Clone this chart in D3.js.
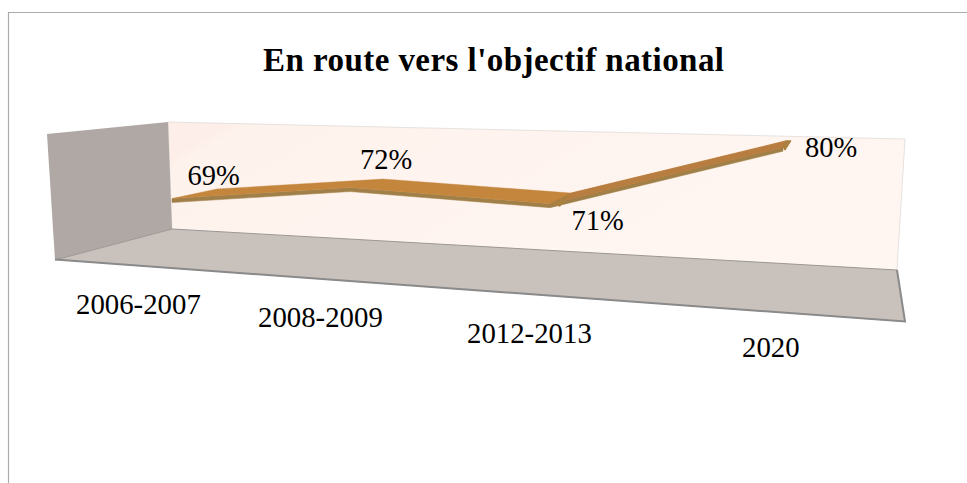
<!DOCTYPE html>
<html><head><meta charset="utf-8">
<script src="https://cdn.jsdelivr.net/npm/d3@7/dist/d3.min.js"></script>
<style>html,body{margin:0;padding:0;background:#fff}svg{display:block}text{font-family:"Liberation Serif",serif;fill:#000}</style>
</head><body><script>
const title = "En route vers l'objectif national";
const categories = ["2006-2007","2008-2009","2012-2013","2020"];
const values = [69,72,71,80];
const W=967,H=483;
const svg=d3.select("body").append("svg").attr("width",W).attr("height",H);
const defs=svg.append("defs");
const g=defs.append("linearGradient").attr("id","wall").attr("x1",0).attr("x2",1).attr("y1",0).attr("y2",.35);
g.append("stop").attr("offset",0).attr("stop-color","#fdeee9");
g.append("stop").attr("offset",.08).attr("stop-color","#fdeee9");
g.append("stop").attr("offset",.1).attr("stop-color","#fef2ec");
g.append("stop").attr("offset",1).attr("stop-color","#fff6f2");
const poly=(pts,fill,stroke,sw)=>svg.append("path").attr("d",d3.line()(pts)+"Z").attr("fill",fill).attr("stroke",stroke||"none").attr("stroke-width",sw||0).attr("stroke-linejoin","round");

svg.append("path").attr("d","M8.5,483V12.5H967").attr("fill","none").attr("stroke","#ababab").attr("stroke-width",1.2);

poly([[168,122],[905,139],[897,270],[172,229]],"url(#wall)");
svg.append("path").attr("d",d3.line()([[172,229],[168,122],[905,139],[897,270]])).attr("fill","none").attr("stroke","#dbd7d4").attr("stroke-width",.7);
poly([[47,134],[168,122],[172,229],[55,260]],"#b0a8a4");
poly([[55,260],[172,229],[897,270],[905,322]],"#c9c1bc");
svg.append("path").attr("d",d3.line()([[55,260],[172,229],[897,270]])).attr("fill","none").attr("stroke","#9b9795").attr("stroke-width",1);
svg.append("path").attr("d",d3.line()([[55,259.5],[905,321.5],[897,270]])).attr("fill","none").attr("stroke","#8a8a8a").attr("stroke-width",2);

const idx=categories.map((_,i)=>i);
const xFront=d3.scaleLinear().domain(idx).range([172,350,550,783]);
const xBack=d3.scaleLinear().domain(idx).range([217,383,571,786]);
const vDom=[69,71,72,80];
const yFront=d3.scaleLinear().domain(vDom).range([186,163.5,162,90]);
const yBack=d3.scaleLinear().domain(vDom).range([180.3,170.2,163.7,109.4]);
const F=values.map((v,i)=>[xFront(i),yFront(v)+.073*xFront(i)]);
const B=values.map((v,i)=>[xBack(i),yBack(v)+.04*xBack(i)]);
const depth=4;
const low=F.map(p=>[p[0],p[1]+depth]);
const last=F.length-1;
poly(F.concat(low.slice().reverse()),"#a08048","#a08048",.5);
poly(F.concat(B.slice().reverse()),"#c4853c","#c4853c",.4);
poly([F[2],F[3],B[3],B[2]],"#b87d40","#b87d40",.4);
poly([F[1],B[1],[B[1][0]-18,B[1][1]+5]],"#bc8240");
poly([F[2],B[2],[F[2][0]+10,F[2][1]+3]],"#a98040");
poly([B[last],[B[last][0]+5,B[last][1]],[F[last][0]+2,low[last][1]-1],F[last]],"#a98040","#a98040",1);

const catPos=[[76,314],[258,326.5],[467,343],[742,357]];
svg.selectAll(".cat").data(categories).join("text").attr("class","cat")
 .attr("x",(d,i)=>catPos[i][0]).attr("y",(d,i)=>catPos[i][1]).attr("font-size",28.8).text(d=>d);
const valPos=[[187.5,184.5],[360,168.5],[571.5,230],[805,157]];
svg.selectAll(".val").data(values).join("text").attr("class","val")
 .attr("x",(d,i)=>valPos[i][0]).attr("y",(d,i)=>valPos[i][1]).attr("font-size",28.5).text(d=>d+"%");
svg.append("text").attr("x",263).attr("y",71).attr("font-size",33).attr("font-weight","bold")
 .attr("textLength",461).attr("lengthAdjust","spacing").text(title);
</script></body></html>
